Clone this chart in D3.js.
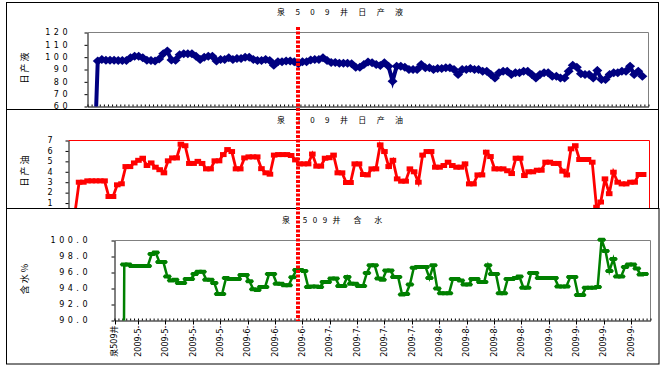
<!DOCTYPE html>
<html lang="zh">
<head>
  <meta charset="UTF-8">
  <title>泉509井 日产液 日产油 含水</title>
  <style>
    body {
      margin: 0;
      background-color: #fff;
    }
    svg {
      display: block;
    }
    text {
      font-family: 'DejaVu Sans', 'Noto Sans CJK SC', sans-serif;
      fill: #000;
    }
    .cjk {
      font-family: 'Noto Sans CJK SC', sans-serif;
    }
  </style>
</head>
<body>
  <svg width="668" height="369"></svg>
  <script src="https://d3js.org/d3.v7.min.js"></script>
  <script>
    // Data (one value per day)
    const categoryCount = 137;
    const xLabels = ["泉509井", "2009-5-", "2009-5-", "2009-5-", "2009-5-", "2009-6-", "2009-6-", "2009-6-",
      "2009-7-", "2009-7-", "2009-7-", "2009-7-", "2009-8-", "2009-8-", "2009-8-", "2009-8-",
      "2009-9-", "2009-9-", "2009-9-", "2009-9-"];
    const xLabelIndex = [0, 6, 13, 20, 27, 34, 41, 48, 55, 62, 69, 76, 83, 90, 97, 104, 111, 118, 125, 132];

    const liquid = [null, 0, 96.8, 98.1, 97.6, 97.6, 97.6, 97.3, 97.3, 97.3,
      99.5, 100.8, 100.8, 99.5, 97.6, 97.3, 96.8, 98.6, 102.7, 104.9,
      97.8, 97.6, 101.9, 102.7, 102.7, 102.7, 100.8, 98.1, 99.9, 100.8,
      100.8, 96.8, 98.1, 98.1, 99.5, 98.1, 98.9, 98.9, 100, 100,
      98.1, 97.3, 97.3, 98.1, 97.3, 93.5, 96.2, 96.2, 96.8, 96.8,
      96.2, 94.6, 96.2, 96.2, 97.8, 98.1, 98.1, 99.5, 97.3, 95.7,
      95.7, 95.1, 95.1, 95.1, 94.6, 91.9, 91.9, 94.1, 96.0, 95.4,
      94.1, 93.2, 95.4, 92.7, 80.5, 92.7, 92.7, 91.9, 90.0, 90.0,
      90.0, 94.1, 91.4, 91.4, 90.0, 90.8, 90.8, 91.4, 91.4, 90.0,
      85.9, 90.0, 90.0, 90.8, 90.0, 90.0, 88.6, 88.6, 85.9, 83.2,
      87.3, 88.6, 88.6, 85.9, 87.3, 87.3, 88.6, 88.6, 85.9, 83.2,
      85.9, 87.3, 87.3, 84.6, 84.6, 83.2, 83.2, 88.6, 93.5, 91.9,
      86.5, 85.9, 85.9, 83.2, 89.2, 81.9, 81.9, 85.9, 87.3, 87.3,
      88.6, 88.6, 92.7, 85.9, 88.6, 84.6];

    const oil = [null, 0, 3.0, 3.0, 3.13, 3.13, 3.13, 3.13, 3.13, 1.63,
      1.63, 2.75, 2.85, 4.5, 4.5, 4.85, 5.1, 5.3, 4.6, 4.85,
      4.44, 4.2, 3.9, 5.05, 5.33, 5.33, 6.65, 6.5, 4.8, 4.8,
      5.0, 4.8, 4.28, 4.28, 5.05, 5.05, 5.65, 6.13, 5.94, 4.28,
      4.28, 5.33, 5.43, 5.43, 5.43, 4.3, 3.9, 3.77, 5.6, 5.65,
      5.65, 5.65, 5.56, 5.14, 4.76, 4.76, 4.76, 5.7, 4.54, 4.54,
      5.3, 5.35, 5.6, 3.9, 3.9, 2.97, 2.97, 4.76, 4.76, 3.74,
      3.7, 4.28, 4.28, 6.58, 5.94, 4.5, 5.1, 3.32, 3.1, 3.1,
      4.28, 4.0, 3.0, 5.6, 5.94, 5.94, 4.44, 4.44, 4.6, 4.92,
      4.6, 4.44, 4.44, 4.76, 2.84, 2.84, 3.7, 3.7, 5.88, 5.46,
      4.28, 4.28, 4.28, 4.1, 3.83, 5.3, 5.3, 3.64, 4.0, 4.0,
      4.15, 4.15, 4.92, 4.92, 4.8, 4.8, 4.06, 3.7, 6.2, 6.5,
      5.18, 5.18, 5.18, 4.92, 0.6, 1.1, 3.32, 1.9, 3.96, 3.0,
      2.84, 2.84, 3.0, 3.0, 3.74, 3.74];

    const water = [null, 0, 97.0, 97.0, 96.8, 96.8, 96.8, 96.8, 96.8, 98.3,
      98.5, 97.3, 97.3, 95.5, 95.0, 95.1, 94.7, 94.7, 95.2, 95.2,
      95.8, 96.1, 96.1, 95.1, 95.1, 94.7, 93.3, 93.3, 95.3, 95.2,
      95.2, 95.2, 95.7, 95.7, 94.9, 93.9, 93.8, 94.2, 94.2, 95.8,
      95.8, 94.6, 94.6, 94.4, 94.4, 95.4, 96.3, 96.3, 96.2, 94.2,
      94.25, 94.25, 94.2, 94.8, 94.8, 95.25, 95.25, 94.3, 94.3, 95.45,
      94.6, 94.6, 94.3, 94.3, 95.95, 96.9, 96.9, 95.25, 95.1, 96.25,
      96.25, 95.45, 95.45, 93.25, 93.3, 94.5, 96.6, 96.7, 96.7, 96.7,
      95.3, 96.9, 94.0, 93.4, 93.4, 93.4, 95.2, 95.2, 95.0, 94.5,
      94.5, 95.2, 95.2, 94.8, 94.8, 96.9, 95.8, 95.8, 93.4, 93.4,
      95.2, 95.2, 95.3, 95.5, 94.1, 94.1, 95.95, 95.95, 95.3, 95.3,
      95.3, 95.3, 95.3, 94.25, 94.25, 94.25, 95.45, 95.45, 93.2, 93.2,
      94.1, 94.1, 94.1, 94.2, 100.1, 98.7, 96.2, 97.7, 95.5, 95.5,
      96.7, 97.0, 97.0, 96.5, 95.75, 95.8];

    const liquidTicks = [60, 70, 80, 90, 100, 110, 120];
    const oilTicks = [0, 1, 2, 3, 4, 5, 6, 7];
    const waterTicks = [90, 92, 94, 96, 98, 100];

    const svg = d3.select('svg');

    // panel settings
    const panels = [
      {
        id: 'p1', box: [6.5, 2.5, 652, 107],
        left: 87.5, right: 648.5, top: 32.5, bottom: 106.5,
        yDomain: [60, 120], ticks: liquidTicks, fmt: d3.format('d'), labelEnd: 71,
        values: liquid, color: '#000080', lineWidth: 4, frame: '#808080',
        marker: 'M0,-4.5L5,0L0,4.5L-5,0Z',
        title: '泉 5 0 9 井 日 产 液', titleX: 277, titleY: 15, titleSpacing: 4.3,
        yTitle: '日产液', yTitleY: 67, xLabels: false
      },
      {
        id: 'p2', box: [6.5, 109.5, 652, 106],
        left: 68.5, right: 649.5, top: 140.5, bottom: 213.5,
        yDomain: [0, 7], ticks: oilTicks, fmt: d3.format('d'), labelEnd: 56,
        values: oil, color: '#ff0000', lineWidth: 2.8, frame: '#ff0000',
        marker: 'M-3.3,-2.5h6.6v5h-6.6Z',
        title: '泉 5 0 9 井 日 产 油', titleX: 277, titleY: 123, titleSpacing: 4.3,
        yTitle: '日产油', yTitleY: 170, xLabels: false
      },
      {
        id: 'p3', box: [6.5, 208.5, 652.5, 155.5],
        left: 114.5, right: 650.5, top: 240.5, bottom: 320.5,
        yDomain: [90, 100], ticks: waterTicks, fmt: d3.format('.1f'), labelEnd: 91,
        values: water, color: '#008000', lineWidth: 2.5, frame: '#808080',
        marker: 'M-4.5,0L-3,-2H3L4.5,0L3,2H-3Z',
        title: '泉 509井 含 水', titleX: 282, titleY: 223, titleSpacing: 5.5,
        yTitle: '含水%', yTitleY: 278, xLabels: true
      }
    ];

    panels.forEach(p => {
      const g = svg.append('g');

      // panel box
      g.append('rect')
        .attr('x', p.box[0]).attr('y', p.box[1])
        .attr('width', p.box[2]).attr('height', p.box[3])
        .style('fill', '#fff').style('stroke', '#000').style('stroke-width', 1);

      const x = d3.scaleLinear().domain([0, categoryCount]).range([p.left, p.right]);
      const y = d3.scaleLinear().domain(p.yDomain).range([p.bottom, p.top]);

      // title
      g.append('text')
        .attr('class', 'cjk')
        .attr('x', p.titleX).attr('y', p.titleY)
        .attr('xml:space', 'preserve')
        .style('font-size', '8px')
        .style('letter-spacing', p.titleSpacing + 'px')
        .text(p.title);

      // y title
      g.append('text')
        .attr('class', 'cjk')
        .attr('transform', `translate(28,${p.yTitleY}) rotate(-90)`)
        .attr('text-anchor', 'middle')
        .style('font-size', '9px')
        .style('letter-spacing', '2px')
        .text(p.yTitle);

      // frame top + right
      g.append('path')
        .attr('d', `M${p.left},${p.top}H${p.right}V${p.bottom}`)
        .style('fill', 'none').style('stroke', p.frame).style('stroke-width', 1);

      // left axis
      const yAxis = d3.axisLeft(y).tickValues(p.ticks).tickSize(3).tickSizeOuter(0).tickFormat('');
      const ya = g.append('g').attr('transform', `translate(${p.left},0)`).call(yAxis);
      ya.selectAll('path, line').style('stroke', '#000');

      g.selectAll('text.ylab')
        .data(p.ticks)
        .enter().append('text')
        .attr('class', 'ylab')
        .attr('x', p.labelEnd)
        .attr('y', d => y(d))
        .attr('dy', '0.35em')
        .attr('text-anchor', 'end')
        .style('font-size', '8px')
        .style('letter-spacing', '3.5px')
        .text(d => p.fmt(d));

      // bottom axis, small tick for every day
      const xAxis = d3.axisBottom(x).tickValues(d3.range(categoryCount + 1)).tickSize(-2).tickSizeOuter(0).tickFormat('');
      const xa = g.append('g').attr('transform', `translate(0,${p.bottom})`).call(xAxis);
      xa.selectAll('path, line').style('stroke', '#000');

      if (p.xLabels) {
        g.selectAll('line.major')
          .data(xLabelIndex)
          .enter().append('line')
          .attr('class', 'major')
          .attr('x1', d => Math.round(x(d)) + 0.5).attr('x2', d => Math.round(x(d)) + 0.5)
          .attr('y1', p.bottom).attr('y2', p.bottom + 4)
          .style('stroke', '#000');

        g.selectAll('text.xlab')
          .data(xLabelIndex)
          .enter().append('text')
          .attr('class', 'xlab')
          .attr('transform', d => `translate(${x(d)},${p.bottom + 5}) rotate(-90)`)
          .attr('dy', '0.35em')
          .attr('text-anchor', 'end')
          .style('font-size', '8px')
          .text((d, i) => xLabels[i]);
      }

      // series
      const pts = p.values.map((v, i) => ({ i, v }));
      g.append('clipPath').attr('id', 'clip-' + p.id)
        .append('rect')
        .attr('x', p.left).attr('y', p.top)
        .attr('width', p.right - p.left).attr('height', p.bottom - p.top);

      const line = d3.line()
        .defined(d => d.v != null)
        .x(d => x(d.i + 0.5))
        .y(d => y(d.v));

      g.append('path')
        .datum(pts)
        .attr('clip-path', `url(#clip-${p.id})`)
        .attr('d', line)
        .style('fill', 'none')
        .style('stroke', p.color)
        .style('stroke-width', p.lineWidth)
        .style('stroke-linejoin', 'miter');

      g.selectAll('path.mk')
        .data(pts.filter(d => d.v != null && d.v >= p.yDomain[0] && d.v <= p.yDomain[1] + 0.5))
        .enter().append('path')
        .attr('class', 'mk')
        .attr('d', p.marker)
        .attr('transform', d => `translate(${x(d.i + 0.5)},${y(d.v)})`)
        .style('fill', p.color);
    });

    // red dashed marker line across the panels
    svg.append('line')
      .attr('x1', 298).attr('x2', 298)
      .attr('y1', 27).attr('y2', 321)
      .style('stroke', '#ff0000')
      .style('stroke-width', 4)
      .style('stroke-dasharray', '3,1.5');
  </script>
</body>
</html>
